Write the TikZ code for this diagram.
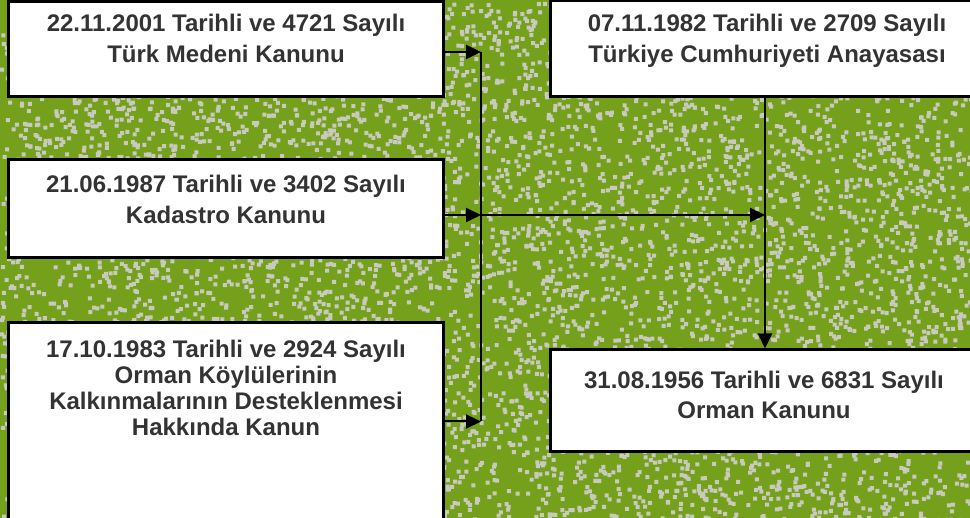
\documentclass[tikz,border=0pt]{standalone}
\usepackage{fontspec}
\setmainfont{Liberation Sans}
\usetikzlibrary{arrows.meta, positioning}
\definecolor{bggreen}{RGB}{102,153,0}
\definecolor{speck}{RGB}{200,202,190}
\definecolor{txtgray}{RGB}{51,51,51}

\begin{document}
\begin{tikzpicture}[x=1pt, y=-1pt,
    box/.style={rectangle, draw=black, fill=white, line width=3pt, inner sep=0pt},
    txt/.style={inner sep=0pt, anchor=base, align=center, text=txtgray, font=\fontsize{24}{31.5}\selectfont\bfseries},
    arrow/.style={line width=2pt, -{Triangle[length=15pt,width=14pt]}},
    line/.style={line width=2pt}
]
    \useasboundingbox (0,0) rectangle (970,518);
    \clip (0,0) rectangle (970,518);

    % textured green background
    \fill[bggreen!86!speck] (0,0) rectangle (970,518);
    \pgfmathsetseed{7}
    \foreach \j in {1,...,13}
        \fill[speck] \foreach \i in {1,...,500} {(rnd*970, rnd*518) rectangle ++(4,4)};

    \node (b1) [box, minimum width=435pt, minimum height=95pt] at (225.5,49.5) {};
    \node (b2) [box, minimum width=435pt, minimum height=98pt] at (225.5,209) {};
    \node (b3) [box, minimum width=435pt, minimum height=197pt] at (225.5,421.5) {};
    \node (b4) [box, minimum width=430pt, minimum height=96pt] at (765,49) {};
    \node (b5) [box, minimum width=430pt, minimum height=102pt] at (765,401) {};
    \coordinate (bus) at (481,0);

    % base anchor sits on the last line
    \node (t1) [txt] at (226,63) {22.11.2001 Tarihli ve 4721 Sayılı\\Türk Medeni Kanunu};
    \node (t2) [txt] at (226,224) {21.06.1987 Tarihli ve 3402 Sayılı\\Kadastro Kanunu};
    \node (t3) [txt, font=\fontsize{24}{26}\selectfont\bfseries] at (226,435.5) {17.10.1983 Tarihli ve 2924 Sayılı\\Orman Köylülerinin\\Kalkınmalarının Desteklenmesi\\Hakkında Kanun};
    \node (t4) [txt, font=\fontsize{24}{31}\selectfont\bfseries] at (767,62.5) {07.11.1982 Tarihli ve 2709 Sayılı\\Türkiye Cumhuriyeti Anayasası};
    \node (t5) [txt, font=\fontsize{24}{30}\selectfont\bfseries] at (764,418.5) {31.08.1956 Tarihli ve 6831 Sayılı\\Orman Kanunu};

    \draw [arrow] ([yshift=-2.5pt]b1.east) -- ([yshift=-2.5pt]b1.east -| bus);
    \draw [arrow] ([yshift=-6pt]b2.east) -- ([yshift=-6pt]b2.east -| bus);
    \draw [arrow] (b3.east) -- (b3.east -| bus);
    \draw [line] ([yshift=-2.5pt]b1.east -| bus) -- (b3.east -| bus);
    \draw [arrow] ([yshift=-6pt]b2.east -| bus) -- ([yshift=-6pt]b2.east -| b4.south);
    \draw [arrow] (b4.south) -- (b5.north);
\end{tikzpicture}
\end{document}
